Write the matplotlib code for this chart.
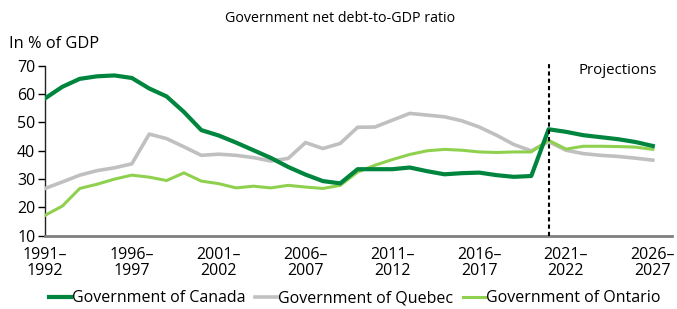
import numpy as np
import matplotlib.pyplot as plt

font = {'family': 'Open Sans', 'size': 11.5}
plt.rc('font', **font)

years = [str(y) + '–\n' + str(y + 1) for y in range(1991, 2027)]

canada = [58.5, 62.6, 65.4, 66.3, 66.6, 65.7, 62.0, 59.2, 53.7, 47.3,
          45.4, 42.9, 40.2, 37.5, 34.3, 31.6, 29.3, 28.5, 33.5, 33.5,
          33.5, 34.1, 32.8, 31.7, 32.1, 32.3, 31.4, 30.8, 31.1, 47.6,
          46.7, 45.5, 44.8, 44.1, 43.1, 41.7]
quebec = [26.7, 29.0, 31.4, 33.0, 34.0, 35.4, 45.9, 44.3, 41.4, 38.4,
          38.8, 38.4, 37.6, 36.4, 37.3, 42.9, 40.8, 42.6, 48.3, 48.4,
          50.8, 53.2, 52.6, 52.0, 50.6, 48.4, 45.5, 42.2, 40.0, 43.2,
          40.2, 39.0, 38.4, 38.0, 37.4, 36.7]
ontario = [17.2, 20.5, 26.7, 28.2, 30.0, 31.4, 30.7, 29.5, 32.2, 29.3,
           28.4, 26.9, 27.5, 26.9, 27.8, 27.2, 26.7, 27.8, 32.5, 34.9,
           36.9, 38.7, 40.0, 40.5, 40.2, 39.6, 39.4, 39.6, 39.6, 43.7,
           40.6, 41.6, 41.6, 41.5, 41.3, 40.5]
projection_start = 29

x = np.arange(len(years))

fig = plt.figure(figsize=(6.77, 3.09), dpi=100)
ax = fig.add_axes([0.0665, 0.237, 0.926, 0.55])

ax.plot(x, quebec, color='#c0c0c0', lw=2.6, label='Government of Quebec', zorder=3)
ax.plot(x, ontario, color='#8fd14f', lw=2.2, label='Government of Ontario', zorder=4)
ax.plot(x, canada, color='#00853f', lw=3.0, label='Government of Canada', zorder=5)
ax.axvline(projection_start, ymin=0, ymax=1.02, color='black', ls=(0, (2, 1.5)),
           lw=1.5, clip_on=False, zorder=6)
ax.text(33.0, 68.3, 'Projections', ha='center', va='center', fontsize=10.8)

ax.set_xlim(0, 36.1)
ax.set_ylim(10, 70)
ax.set_yticks(range(10, 71, 10))
ax.set_xticks(x[::5])
ax.set_xticklabels(years[::5], linespacing=1.05)
ax.tick_params(axis='x', length=0, pad=8)
ax.tick_params(axis='y', length=5, width=1, pad=2)

for side in ['top', 'right']:
    ax.spines[side].set_visible(False)
ax.spines['left'].set_color('#222222')
ax.spines['left'].set_linewidth(1.0)
ax.spines['bottom'].set_color('#808080')
ax.spines['bottom'].set_linewidth(2.0)

fig.text(0.502, 0.94, 'Government net debt-to-GDP ratio', ha='center', va='center', fontsize=10.3)
fig.text(0.013, 0.858, 'In % of GDP', ha='left', va='center', fontsize=11.8)

handles, labels = ax.get_legend_handles_labels()
order = [2, 0, 1]
fig.legend([handles[i] for i in order], [labels[i] for i in order],
           loc='center', bbox_to_anchor=(0.524, 0.035), ncol=3, frameon=False,
           handlelength=1.4, handletextpad=0.05, columnspacing=0.6, fontsize=11.5,
           borderpad=0.2)

plt.savefig('out.png', dpi=100)
